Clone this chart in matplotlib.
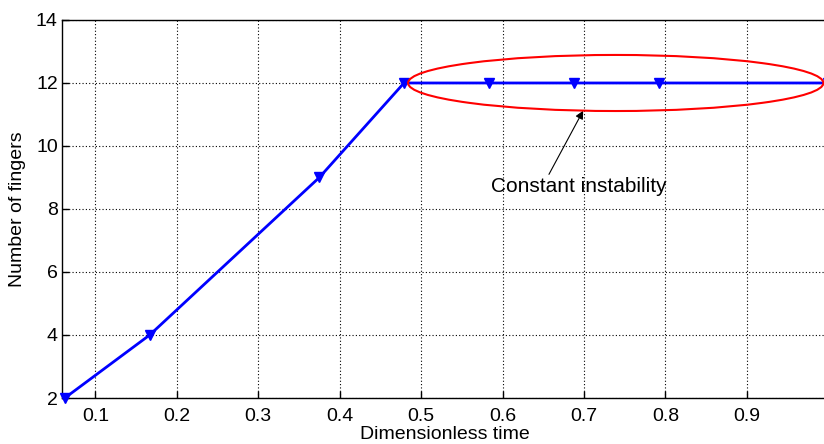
import matplotlib
matplotlib.use("Agg")
import matplotlib.pyplot as plt
from matplotlib.patches import Ellipse

plt.rcParams["font.family"] = ["Liberation Sans", "DejaVu Sans"]

# data
t = [0.0625, 0.1667, 0.375, 0.479, 0.583, 0.6875, 0.792, 1.0]
fingers = [2, 4, 9, 12, 12, 12, 12, 12]
xticks = [0.1, 0.2, 0.3, 0.4, 0.5, 0.6, 0.7, 0.8, 0.9, 1.0]
xtick_labels = ["0.1", "0.2", "0.3", "0.4", "0.5", "0.6", "0.7", "0.8", "0.9", "1"]
yticks = [2, 4, 6, 8, 10, 12, 14]

fig = plt.figure(figsize=(8.24, 4.44), dpi=100)
ax = fig.add_axes([0.0752, 0.1036, 0.93, 0.8514])

ax.plot(t, fingers, "-v", color="#0000ff", lw=2, ms=7, clip_on=False, zorder=3)

ax.set_xlim(0.059, 1.0)
ax.set_ylim(2, 14)
ax.set_xticks(xticks)
ax.set_xticklabels(xtick_labels)
ax.set_yticks(yticks)
ax.tick_params(direction="in", labelsize=14, length=5, width=1)
ax.tick_params(axis="x", pad=7)
ax.tick_params(axis="y", pad=3)
ax.grid(True, color="black", linestyle=(0, (1, 2)), linewidth=0.8)
for s in ax.spines.values():
    s.set_linewidth(1)

ax.set_xlabel("Dimensionless time", fontsize=14, labelpad=1)
ax.set_ylabel("Number of fingers", fontsize=14, labelpad=7)

ell = Ellipse((0.739, 12), 0.51, 1.78, fill=False, edgecolor="red", lw=1.5, zorder=4)
ax.add_patch(ell)

# arrow + label
ax.annotate("", xy=(0.699, 11.12), xytext=(0.657, 9.1),
            arrowprops=dict(arrowstyle="-|>", color="black", lw=0.8,
                            shrinkA=0, shrinkB=0, mutation_scale=12))
ax.text(0.694, 8.7, "Constant instability", fontsize=15, ha="center", va="center")

fig.savefig("out.png", dpi=100)
